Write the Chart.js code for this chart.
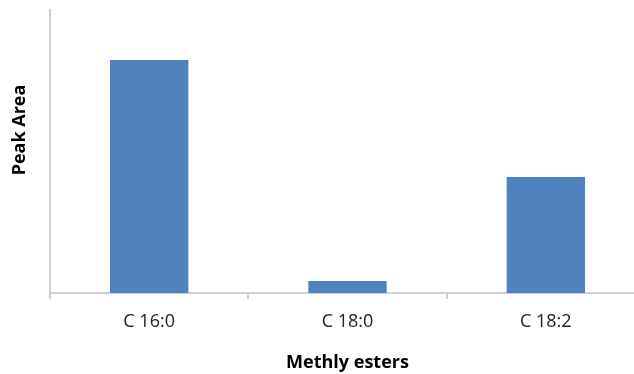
<!DOCTYPE html>
<html>
<head>
<meta charset="utf-8">
<script src="https://cdn.jsdelivr.net/npm/chart.js@4"></script>
<style>
    html, body { margin: 0; padding: 0; background: #fff; overflow: hidden; }
    #wrap { width: 645px; height: 374px; }
</style>
</head>
<body>
<div id="wrap"><canvas id="peakChart" width="645" height="374"></canvas></div>
<script>
// Chart data
const categories = ['C 16:0', 'C 18:0', 'C 18:2'];
const peakArea = [82.3, 4.2, 41];
const yMax = 100;

const xTitle = 'Methly esters';
const yTitle = 'Peak Area';
const fontFamily = "'Open Sans', 'Liberation Sans', sans-serif";

// Y title drawn off-centre like the original
const yTitlePlugin = {
    id: 'yTitle',
    afterDraw(chart) {
        const ctx = chart.ctx;
        ctx.save();
        ctx.translate(20, 130);
        ctx.rotate(-Math.PI / 2);
        ctx.font = "bold 18px " + fontFamily;
        ctx.fillStyle = '#000';
        ctx.textAlign = 'center';
        ctx.textBaseline = 'middle';
        ctx.fillText(yTitle, 0, 0);
        ctx.restore();
    }
};

const ctx = document.getElementById('peakChart').getContext('2d');

new Chart(ctx, {
    type: 'bar',
    data: {
        labels: categories,
        datasets: [{
            label: yTitle,
            data: peakArea,
            backgroundColor: '#4f81bd',
            borderWidth: 0,
            categoryPercentage: 1,
            barPercentage: 0.395
        }]
    },
    options: {
        responsive: false,
        animation: false,
        layout: {
            padding: { left: 50, top: 10, right: 0, bottom: 0 }
        },
        scales: {
            x: {
                afterFit: (scale) => { scale.height = 81; },
                grid: {
                    drawOnChartArea: false,
                    tickLength: 6,
                    color: '#d0d0d0',
                    lineWidth: 2
                },
                border: { color: '#d0d0d0', width: 2 },
                ticks: {
                    color: '#222',
                    padding: 12,
                    font: { family: fontFamily, size: 18 }
                },
                title: {
                    display: true,
                    text: xTitle,
                    color: '#000',
                    padding: { top: 0, bottom: 0 },
                    font: { family: fontFamily, size: 18, weight: 'bold' }
                }
            },
            y: {
                min: 0,
                max: yMax,
                afterFit: (scale) => { scale.width = 0; },
                grid: { display: false },
                border: { color: '#d0d0d0', width: 2 },
                ticks: { display: false }
            }
        },
        plugins: {
            legend: { display: false },
            tooltip: { enabled: false }
        }
    },
    plugins: [yTitlePlugin]
});
</script>
</body>
</html>
